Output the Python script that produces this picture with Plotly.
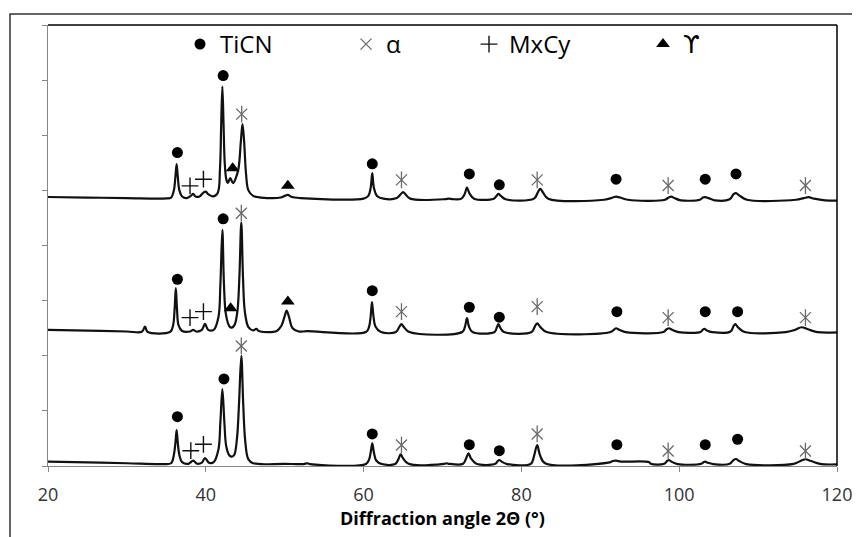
import plotly.graph_objects as go

# ---------------- data ----------------
# top pattern
top_x = [20, 25, 30, 35, 35.6, 35.95, 36.15, 36.3, 36.45, 36.65, 37.0, 37.6, 38.1, 38.4, 38.7, 39.2, 39.7, 40.0, 40.3, 40.9,
         41.5, 41.8, 41.95, 42.1, 42.25, 42.4, 42.6, 42.8, 43.1, 43.45, 43.8, 44.15, 44.45, 44.65, 44.85, 45.1, 45.4, 46.0,
         47, 49.5, 50.0, 50.4, 50.9, 52, 60, 60.6, 60.9, 61.1, 61.3, 61.7, 62.5, 64.2, 64.7, 65.0, 65.3, 65.9, 70.3, 70.8,
         71.3, 72.4, 72.8, 73.1, 73.4, 74.0, 76.5, 76.9, 77.1, 77.4, 78.0, 81.6, 82.1, 82.4, 82.7, 83.4, 90.5, 91.6, 92.0,
         92.5, 93.5, 98.2, 98.7, 99.0, 99.4, 100.2, 102.6, 103.0, 103.3, 103.7, 104.5, 106.4, 106.9, 107.2, 107.6, 108.6,
         114.8, 115.8, 116.4, 117.1, 118.5, 120]
top_y = [4.88, 4.87, 4.86, 4.855, 4.87, 5.0, 5.25, 5.476, 5.25, 5.0, 4.89, 4.86, 4.9, 4.936, 4.89, 4.89, 4.96, 4.978, 4.93, 4.89,
         4.95, 5.4, 6.2, 6.884, 6.2, 5.5, 5.2, 5.136, 5.221, 5.13, 5.221, 5.4, 5.9, 6.201, 5.9, 5.3, 5.0, 4.9,
         4.87, 4.87, 4.9, 4.918, 4.88, 4.86, 4.85, 4.9, 5.05, 5.312, 5.05, 4.9, 4.85, 4.86, 4.93, 4.967, 4.93, 4.85, 4.84, 4.85,
         4.84, 4.85, 4.93, 5.051, 4.95, 4.85, 4.85, 4.91, 4.936, 4.9, 4.84, 4.85, 4.97, 5.027, 4.97, 4.85, 4.83, 4.87, 4.887,
         4.87, 4.83, 4.83, 4.875, 4.887, 4.86, 4.82, 4.83, 4.87, 4.876, 4.86, 4.82, 4.84, 4.93, 4.949, 4.91, 4.83,
         4.83, 4.86, 4.876, 4.85, 4.82, 4.815]

# middle pattern
mid_x = [20, 25, 30, 31.9, 32.3, 32.6, 35.5, 35.85, 36.05, 36.2, 36.35, 36.55, 37.0, 38.0, 38.4, 38.8, 39.5, 39.9, 40.3, 41.0,
         41.6, 41.85, 42.1, 42.3, 42.55, 43.0, 43.3, 43.65, 44.0, 44.25, 44.5, 44.72, 44.95, 45.4, 46.0, 46.4, 46.8, 49.0,
         49.6, 50.0, 50.25, 50.55, 51.0, 51.8, 52.8, 60.3, 60.7, 60.9, 61.06, 61.25, 61.5, 62.2, 64.1, 64.55, 64.8, 65.1,
         65.8, 72.5, 72.85, 73.1, 73.35, 73.8, 76.6, 76.9, 77.1, 77.35, 77.8, 81.3, 81.7, 82.0, 82.4, 83.2, 91.3, 91.8,
         92.0, 92.4, 93.2, 98.0, 98.4, 98.7, 99.1, 99.9, 102.7, 103.0, 103.2, 103.5, 104.2, 106.5, 106.9, 107.1, 107.5,
         108.3, 113.5, 114.7, 115.5, 116.3, 117.5, 120]
mid_y = [2.468, 2.455, 2.44, 2.435, 2.528, 2.435, 2.435, 2.55, 2.85, 3.225, 2.85, 2.55, 2.45, 2.44, 2.468, 2.44, 2.47, 2.577, 2.47, 2.47,
         2.7, 3.3, 4.283, 3.3, 2.75, 2.53, 2.51, 2.56, 2.8, 3.4, 4.416, 3.4, 2.8, 2.52, 2.46, 2.486, 2.445, 2.45,
         2.55, 2.72, 2.819, 2.7, 2.5, 2.44, 2.445, 2.43, 2.53, 2.72, 2.971, 2.72, 2.53, 2.43, 2.43, 2.53, 2.572, 2.52,
         2.43, 2.43, 2.53, 2.681, 2.53, 2.43, 2.43, 2.52, 2.572, 2.5, 2.43, 2.43, 2.53, 2.59, 2.52, 2.43, 2.43, 2.48,
         2.499, 2.47, 2.43, 2.43, 2.48, 2.499, 2.47, 2.43, 2.43, 2.475, 2.486, 2.46, 2.43, 2.44, 2.54, 2.572, 2.51,
         2.43, 2.43, 2.47, 2.517, 2.48, 2.43, 2.425]

# bottom pattern
bot_x = [20, 25, 30, 34.5, 35.6, 35.95, 36.15, 36.3, 36.45, 36.65, 37.0, 37.8, 38.4, 38.9, 39.5, 39.9, 40.4, 41.0, 41.6, 41.85,
         42.1, 42.35, 42.6, 43.0, 43.3, 43.6, 43.95, 44.2, 44.5, 44.75, 45.0, 45.4, 46.0, 50, 52.4, 52.8, 53.2, 60.3, 60.7,
         60.9, 61.1, 61.3, 61.6, 62.3, 64.0, 64.4, 64.7, 65.0, 65.7, 70.2, 70.5, 70.8, 72.6, 73.0, 73.3, 73.6, 74.3, 76.7,
         77.0, 77.2, 77.5, 78.2, 81.2, 81.6, 82.0, 82.35, 83.0, 91.0, 91.6, 92.0, 92.6, 96.2, 96.4, 98.1, 98.5, 98.7, 99.0,
         99.8, 102.8, 103.1, 103.3, 103.6, 104.3, 106.4, 106.9, 107.2, 107.6, 108.5, 114.5, 115.5, 116.0, 116.7, 118, 120]
bot_y = [0.078, 0.065, 0.05, 0.035, 0.05, 0.2, 0.42, 0.653, 0.42, 0.2, 0.07, 0.04, 0.096, 0.04, 0.06, 0.145, 0.06, 0.07, 0.3, 0.8,
         1.397, 0.8, 0.35, 0.19, 0.169, 0.2, 0.5, 1.1, 1.996, 1.1, 0.45, 0.12, 0.05, 0.04, 0.035, 0.049, 0.035, 0.035, 0.12,
         0.25, 0.412, 0.25, 0.1, 0.035, 0.035, 0.12, 0.212, 0.14, 0.04, 0.04, 0.049, 0.04, 0.04, 0.14, 0.23, 0.14, 0.04, 0.04,
         0.09, 0.109, 0.08, 0.035, 0.04, 0.18, 0.381, 0.2, 0.05, 0.06, 0.09, 0.096, 0.08, 0.07, 0.04, 0.04, 0.095, 0.109, 0.08,
         0.035, 0.04, 0.07, 0.078, 0.06, 0.035, 0.04, 0.11, 0.127, 0.09, 0.035, 0.04, 0.1, 0.122, 0.09, 0.035, 0.03]

# phase markers (position, height)
ticn_x = [36.4, 42.2, 61.1, 73.4, 77.2, 92.0, 103.3, 107.2,
          36.4, 42.2, 61.1, 73.4, 77.2, 92.1, 103.3, 107.4,
          36.4, 42.3, 61.1, 73.4, 77.2, 92.1, 103.3, 107.4]
ticn_y = [5.686, 7.083, 5.481, 5.299, 5.100, 5.203, 5.203, 5.299,
          3.388, 4.483, 3.181, 2.880, 2.699, 2.800, 2.800, 2.800,
          0.895, 1.579, 0.581, 0.387, 0.278, 0.387, 0.387, 0.485]
alpha_x = [44.55, 64.8, 82.0, 98.6, 116.0,
           44.5, 64.8, 82.0, 98.6, 116.0,
           44.5, 64.8, 82.0, 98.6, 116.0]
alpha_y = [6.383, 5.191, 5.191, 5.087, 5.087,
           4.586, 2.800, 2.891, 2.691, 2.691,
           2.178, 0.381, 0.581, 0.272, 0.272]
mxcy_x = [38.0, 39.7, 38.0, 39.7, 38.1, 39.7]
mxcy_y = [5.082, 5.203, 2.691, 2.800, 0.278, 0.394]
gamma_x = [43.4, 50.4, 43.15, 50.4]
gamma_y = [5.403, 5.082, 2.862, 2.982]

x_ticks = [20, 40, 60, 80, 100, 120]
legend_names = ["TiCN", "α", "MxCy", "ϒ"]

# ---------------- figure ----------------
FONT = "Open Sans"
ASTER = "#6a6a6a"
fig = go.Figure()
line_style = dict(color="#111111", width=2.2)
for xs, ys in [(top_x, top_y), (mid_x, mid_y), (bot_x, bot_y)]:
    fig.add_trace(go.Scatter(x=xs, y=ys, mode="lines", line=line_style,
                             line_shape="spline", showlegend=False, hoverinfo="skip"))

fig.add_trace(go.Scatter(x=ticn_x, y=ticn_y, mode="markers", name=legend_names[0],
                         marker=dict(symbol="circle", size=11, color="black"), legend="legend"))
fig.add_trace(go.Scatter(x=alpha_x, y=alpha_y, mode="markers", name=legend_names[1],
                         marker=dict(symbol="x-thin-open", size=11, color=ASTER,
                                     line=dict(color=ASTER, width=1.3)),
                         legend="legend2"))
fig.add_trace(go.Scatter(x=alpha_x, y=alpha_y, mode="markers", showlegend=False,
                         marker=dict(symbol="line-ns-open", size=12, color=ASTER,
                                     line=dict(color=ASTER, width=1.3))))
fig.add_trace(go.Scatter(x=mxcy_x, y=mxcy_y, mode="markers", name=legend_names[2],
                         marker=dict(symbol="cross-thin-open", size=12, color="#111111",
                                     line=dict(color="#111111", width=1.4)),
                         legend="legend3"))
fig.add_trace(go.Scatter(x=gamma_x, y=gamma_y, mode="markers", name=legend_names[3],
                         marker=dict(symbol="triangle-up", size=12, color="black"), legend="legend4"))

# the page body adds an 8 px offset, so the figure is 8 px smaller on each side
PLOT_L, PLOT_W, PLOT_H = 40, 789, 441
LEG_Y = 1 + 3 / PLOT_H
leg_common = dict(orientation="h", yanchor="top", y=LEG_Y, xanchor="left",
                  font=dict(family=FONT, size=24, color="black"), bgcolor="rgba(0,0,0,0)")
def lx(px):
    return (px - 8 - 20 - PLOT_L) / PLOT_W

fig.update_layout(
    width=852, height=529,
    margin=dict(l=40, r=23, t=17, b=71, autoexpand=False),
    paper_bgcolor="white", plot_bgcolor="white",
    legend=dict(**leg_common, x=lx(200)),
    legend2=dict(**leg_common, x=lx(366)),
    legend3=dict(**leg_common, x=lx(489)),
    legend4=dict(orientation="h", yanchor="top", y=LEG_Y, xanchor="left", bgcolor="rgba(0,0,0,0)",
                 font=dict(family="DejaVu Sans", size=24, color="black"), x=lx(663)),
    xaxis=dict(range=[20, 120], tickvals=x_ticks, ticktext=[str(v) for v in x_ticks],
               showgrid=False, zeroline=False, showline=True, linecolor="#868686", linewidth=1,
               ticks="outside", ticklen=5, tickcolor="#868686", ticklabelstandoff=7,
               tickfont=dict(family=FONT, size=18, color="#333333"),
               title=dict(text="<b>Diffraction angle 2Θ (°)</b>", standoff=5,
                          font=dict(family=FONT, size=18, color="black"))),
    yaxis=dict(range=[0, 8], dtick=1, showticklabels=False, showgrid=False, zeroline=False,
               showline=True, linecolor="#868686", linewidth=1,
               ticks="outside", ticklen=5, tickcolor="#868686"),
    shapes=[
        dict(type="line", xref="paper", yref="paper", x0=0, x1=1, y0=1, y1=1,
             line=dict(color="black", width=1.5)),
        dict(type="line", xref="paper", yref="paper", x0=1, x1=1, y0=0, y1=1,
             line=dict(color="black", width=1.5)),
        dict(type="rect", xref="paper", yref="paper", x0=(10 - 48) / PLOT_W, x1=1.2,
             y0=-0.3, y1=1 + (25 - 14) / PLOT_H, line=dict(color="#333333", width=1.5)),
    ],
)

fig.write_html("out.html")
